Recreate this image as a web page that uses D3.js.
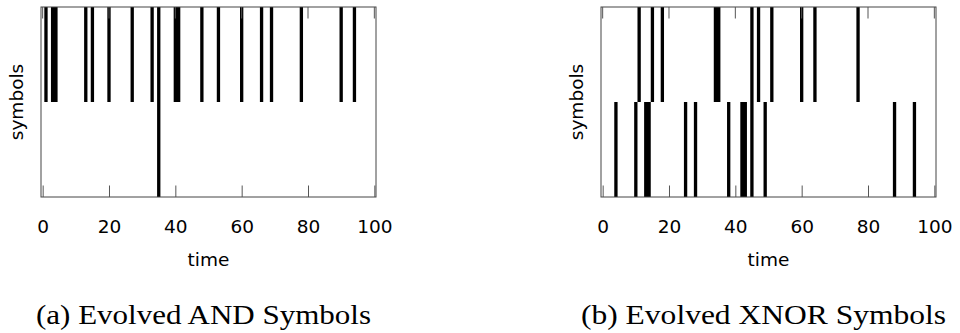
<!DOCTYPE html>
<html>
<head>
<meta charset="utf-8">
<script src="https://cdn.jsdelivr.net/npm/d3@7"></script>
<style>
  body { margin: 0; background: #fff; }
  svg { display: block; }
  .tick text { font-family: "DejaVu Sans", sans-serif; }
</style>
</head>
<body>
<div class="div_d3"></div>
<script>
// times at which each symbol fires
const andTop = [1, 3, 4, 13, 15, 20, 27, 33, 35, 40, 41, 48, 53, 60, 66, 69, 78, 90, 94]
const andBottom = [35]
const xnorTop = [11, 15, 18, 34, 35, 45, 47, 51, 60, 64, 77]
const xnorBottom = [4, 10, 13, 14, 25, 28, 38, 42, 43, 45, 49, 88, 94]

const timeTicks = [0, 20, 40, 60, 80, 100]
const symbolRows = ["top", "bottom"]
const captions = ["(a) Evolved AND Symbols", "(b) Evolved XNOR Symbols"]

const W = 960, H = 333
const plotW = 335, plotTop = 7, plotBottom = 197
const panels = [
  {left: 41, hi: andTop, lo: andBottom, caption: captions[0], capW: 335},
  {left: 601, hi: xnorTop, lo: xnorBottom, caption: captions[1], capW: 365}
]

const svg = d3.select(".div_d3")
  .append("svg")
    .attr("width", W)
    .attr("height", H)

const fontSans = "'DejaVu Sans', sans-serif"
const tickLen = 11.5

// join consecutive time steps into runs so neighbours don't show a seam
function toRuns(times, row) {
  const runs = []
  for (let t of times) {
    const last = runs[runs.length - 1]
    if (last && t === last.end + 1) last.end = t
    else runs.push({start: t, end: t, row: row})
  }
  return runs
}

panels.forEach(function(p) {
  const g = svg.append("g")

  const x = d3.scaleLinear()
    .domain([-0.5, 100.5])
    .range([p.left, p.left + plotW])

  const y = d3.scaleBand()
    .domain(symbolRows)
    .range([plotTop, plotBottom])

  const events = toRuns(p.hi, "top").concat(toRuns(p.lo, "bottom"))

  g.append("g")
    .selectAll("rect")
    .data(events)
    .enter().append("rect")
      .attr("x", d => x(d.start - 0.5))
      .attr("width", d => x(d.end + 0.5) - x(d.start - 0.5))
      .attr("y", d => y(d.row))
      .attr("height", y.bandwidth())
      .attr("fill", "#000")

  // frame
  g.append("rect")
    .attr("x", x.range()[0])
    .attr("y", plotTop)
    .attr("width", plotW)
    .attr("height", plotBottom - plotTop)
    .attr("fill", "none")
    .attr("stroke", "#444")
    .attr("stroke-width", 1)

  // bottom axis with ticks pointing inward
  const axB = g.append("g")
    .attr("transform", `translate(0,${plotBottom})`)
    .call(d3.axisBottom(x).tickValues(timeTicks).tickSize(-tickLen).tickPadding(0))
  axB.select(".domain").remove()
  axB.selectAll("line").attr("stroke", "#555")
  axB.selectAll("text")
    .attr("y", 35.5)
    .attr("dy", null)
    .attr("fill", "#000")
    .style("font-size", "18.5px")

  // mirrored ticks on top
  g.append("g")
    .selectAll("line")
    .data(timeTicks)
    .enter().append("line")
      .attr("x1", d => x(d)).attr("x2", d => x(d))
      .attr("y1", plotTop).attr("y2", plotTop + tickLen)
      .attr("stroke", "#555")

  const mid = (x(0) + x(100)) / 2

  g.append("text")
    .attr("x", mid)
    .attr("y", 265.5)
    .attr("text-anchor", "middle")
    .style("font-family", fontSans)
    .style("font-size", "18.5px")
    .text("time")

  g.append("text")
    .attr("transform", `translate(${p.left - 18},${(plotTop + plotBottom) / 2}) rotate(-90)`)
    .attr("text-anchor", "middle")
    .style("font-family", fontSans)
    .style("font-size", "18.5px")
    .text("symbols")

  g.append("text")
    .attr("x", mid - 5 - p.capW / 2)
    .attr("y", 324)
    .attr("textLength", p.capW)
    .attr("lengthAdjust", "spacingAndGlyphs")
    .style("font-family", "'Liberation Serif', serif")
    .style("font-size", "27px")
    .text(p.caption)
})
</script>
</body>
</html>
